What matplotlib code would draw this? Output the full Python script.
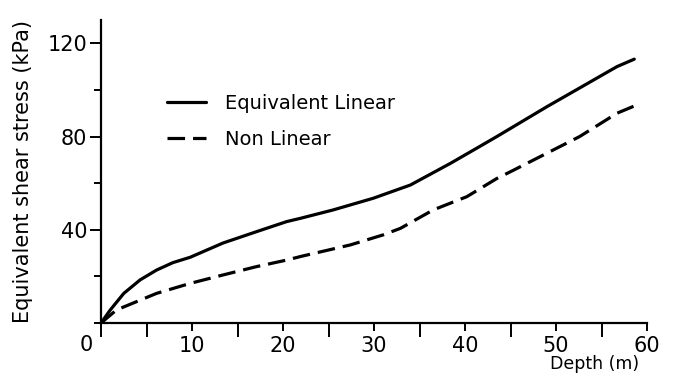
import matplotlib
matplotlib.use('Agg')
import matplotlib.pyplot as plt
from matplotlib.ticker import MultipleLocator

plt.rcParams['font.family'] = ['DejaVu Sans']

# depth (m) / stress (kPa)
depth_eq = [0, 1.0, 2.5, 4.3, 6.1, 7.9, 9.8, 13.4, 17.1, 20.4, 21.9, 25.5,
            29.9, 34.0, 38.4, 41.6, 43.5, 49.0, 56.7, 58.6]
stress_eq = [0, 5.5, 12.7, 18.5, 22.7, 25.9, 28.2, 34.3, 39.2, 43.5, 44.9, 48.5,
             53.5, 59.2, 68.5, 75.7, 80.0, 92.8, 110.0, 113.2]

depth_nl = [0, 1.7, 6.1, 9.8, 13.4, 17.1, 20.4, 21.9, 27.4, 31.0, 32.9,
            36.5, 40.2, 43.5, 45.3, 52.6, 56.7, 58.6]
stress_nl = [0, 5.6, 12.7, 17.0, 20.6, 24.2, 27.0, 28.5, 33.5, 37.8, 40.6,
             48.5, 54.2, 62.0, 65.5, 80.0, 90.0, 93.1]

labels = ['Equivalent Linear', 'Non Linear']
x_ticks = [10, 20, 30, 40, 50, 60]
y_ticks = [40, 80, 120]

fig = plt.figure(figsize=(6.78, 3.81), dpi=100)
ax = fig.add_axes([101 / 678, 1 - 323 / 381, 546 / 678, 303 / 381])

ax.plot(depth_eq, stress_eq, color='black', lw=2.3, label=labels[0],
        solid_capstyle='round')
ax.plot(depth_nl, stress_nl, color='black', lw=2.3, label=labels[1],
        linestyle=(0, (5.5, 2.5)))

ax.set_xlim(0, 60)
ax.set_ylim(0, 130)
ax.spines['top'].set_visible(False)
ax.spines['right'].set_visible(False)
for s in ['left', 'bottom']:
    ax.spines[s].set_linewidth(1.6)

ax.set_xticks(x_ticks)
ax.set_xticklabels([str(t) for t in x_ticks])
ax.xaxis.set_minor_locator(MultipleLocator(5))
ax.set_yticks(y_ticks)
ax.set_yticklabels([str(t) for t in y_ticks])
ax.yaxis.set_minor_locator(MultipleLocator(20))
ax.tick_params(axis='x', which='major', direction='out', length=6, width=1.4,
               labelsize=15, pad=3)
ax.tick_params(axis='x', which='minor', direction='out', length=10, width=1.4)
ax.tick_params(axis='y', which='major', direction='out', length=8, width=1.4,
               labelsize=15, pad=2)
ax.tick_params(axis='y', which='minor', direction='out', length=5, width=1.4)

ax.text(-0.9, -5, '0', ha='right', va='top', fontsize=15)

ax.set_ylabel('Equivalent shear stress (kPa)', fontsize=15)
ax.yaxis.set_label_coords(-0.125, 0.5)
ax.set_xlabel('Depth (m)', fontsize=12.5)
ax.xaxis.set_label_coords(0.985, -0.105)
ax.xaxis.label.set_ha('right')

ax.legend(loc='upper left', bbox_to_anchor=(0.121, 0.757), frameon=False,
          fontsize=14, handlelength=2.0, handletextpad=1.0, labelspacing=0.9,
          borderpad=0, borderaxespad=0)

fig.savefig('out.png', dpi=100)
